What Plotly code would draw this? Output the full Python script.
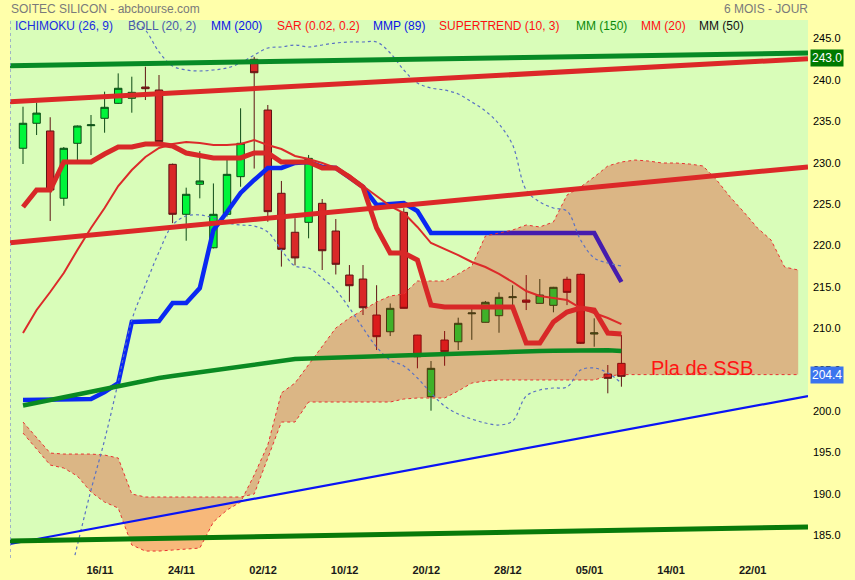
import plotly.graph_objects as go

# ---------------- data ----------------
bars = list(range(45))
opens = [231.75, 234.77, 233.84, 225.71, 232.35, 234.48, 235.37, 237.18, 237.79, 239.15,
         238.79, 229.81, 223.77, 227.40, 219.73, 223.77, 228.32, 242.50, 236.37, 226.31,
         221.60, 222.80, 225.10, 221.75, 216.43, 215.95, 211.60, 209.58, 224.01, 209.18,
         201.73, 208.58, 208.37, 211.75, 210.72, 211.52, 213.70, 213.41, 213.01, 212.77,
         215.92, 216.52, 209.30, 204.47, 205.76]
highs = [236.77, 237.26, 235.50, 231.90, 234.50, 235.77, 238.59, 240.80, 240.40, 241.60,
         240.60, 229.90, 226.99, 231.40, 227.50, 230.33, 236.58, 242.80, 236.98, 227.80,
         223.30, 230.94, 225.62, 223.20, 217.64, 217.64, 215.20, 213.00, 224.50, 209.20,
         206.04, 209.67, 211.28, 212.80, 213.30, 214.34, 215.20, 216.43, 215.95, 215.00,
         216.23, 216.60, 211.20, 205.56, 209.18]
lows = [229.85, 233.35, 222.96, 224.80, 230.10, 230.93, 233.63, 237.10, 236.05, 237.58,
        232.40, 222.70, 220.58, 225.70, 219.65, 223.50, 227.10, 229.30, 222.87, 217.45,
        217.60, 220.87, 217.04, 216.50, 213.20, 211.60, 207.37, 209.06, 212.40, 205.16,
        200.04, 205.47, 207.37, 208.60, 210.70, 209.46, 212.20, 212.20, 213.00, 211.93,
        212.80, 208.10, 207.77, 202.14, 202.94]
closes = [234.77, 236.00, 226.71, 231.75, 234.44, 234.58, 236.70, 239.00, 238.51, 238.95,
          232.55, 223.77, 226.19, 227.80, 223.77, 228.60, 232.35, 240.88, 224.09, 219.54,
          218.50, 230.53, 219.37, 217.73, 215.14, 212.48, 208.98, 212.41, 212.41, 206.56,
          205.16, 207.17, 210.60, 211.85, 213.14, 213.74, 213.80, 213.14, 214.02, 214.95,
          214.34, 208.18, 209.45, 203.95, 204.19]

kijun = [201.33, 201.33, 201.33, 201.33, 201.33, 201.45, 202.30, 203.38, 210.76, 210.88,
         210.88, 213.05, 213.05, 214.86, 221.87, 224.05, 226.35, 227.92, 229.37, 229.37,
         229.97, 230.09, 229.49, 229.37, 228.28, 227.07, 224.90, 225.02, 225.14, 224.17,
         221.51, 221.51, 221.51, 221.51, 221.51, 221.51, 221.51, 221.51, 221.51, 221.51,
         221.51, 221.51, 221.51, 218.49, 215.59]
supertrend = [224.65, 226.71, 226.71, 230.09, 230.09, 230.09, 231.06, 231.90, 231.90, 232.27,
              232.27, 232.03, 231.18, 230.82, 230.58, 230.58, 230.58, 231.18, 231.18, 230.09,
              230.09, 230.09, 229.37, 229.37, 228.28, 227.07, 222.12, 219.09, 219.09, 218.25,
              212.81, 212.57, 212.57, 212.57, 212.57, 212.57, 212.57, 208.22, 208.22, 210.76,
              211.96, 212.45, 212.21, 209.43, 209.31]
mm20 = [209.43, 212.21, 214.38, 216.68, 219.46, 222.12, 224.53, 227.19, 229.12, 230.70,
        231.78, 232.27, 232.51, 232.39, 232.15, 232.15, 232.27, 232.75, 232.15, 231.66,
        230.82, 230.45, 229.97, 229.37, 228.52, 227.19, 225.98, 224.77, 223.93, 222.24,
        220.30, 219.58, 218.85, 218.01, 217.40, 216.56, 215.59, 214.50, 213.90, 213.66,
        213.41, 212.45, 211.84, 211.24, 210.51]
mm200 = [200.66, 201.00, 201.33, 201.69, 202.05, 202.36, 202.66, 203.02, 203.38, 203.69,
         203.99, 204.23, 204.47, 204.71, 204.95, 205.20, 205.44, 205.68, 205.92, 206.10,
         206.28, 206.34, 206.40, 206.46, 206.53, 206.59, 206.65, 206.71, 206.77, 206.80,
         206.85, 206.89, 206.94, 206.98, 207.00, 207.07, 207.13, 207.19, 207.25, 207.29,
         207.33, 207.37, 207.37, 207.35, 207.25]
boll_up = [258.0, 258.5, 258.0, 256.5, 255.0, 253.5, 252.0, 250.0, 247.4, 246.04,
           243.39, 241.69, 241.21, 241.09, 241.21, 241.45, 242.06, 243.02, 243.87, 243.99,
           244.23, 243.99, 244.23, 244.47, 244.59, 244.59, 244.59, 243.26, 241.21, 239.64,
           239.03, 238.79, 238.31, 237.34, 236.26, 234.68, 232.15, 226.71, 225.26, 224.53,
           224.17, 220.67, 218.49, 217.89, 217.52]
boll_dn = [161.0, 166.0, 171.0, 177.0, 183.81, 190.45, 196.50, 203.50, 211.00, 215.23,
           219.22, 222.48, 223.57, 223.69, 223.32, 222.72, 222.48, 222.36, 221.63, 219.46,
           217.52, 217.28, 216.07, 214.62, 212.45, 210.03, 207.73, 206.16, 205.44, 203.99,
           202.18, 200.60, 199.64, 199.03, 198.55, 198.31, 198.79, 201.81, 202.54, 202.78,
           202.90, 204.95, 205.20, 204.59, 203.38]

cloud_bars = list(range(58))
span_a = [197.34, 195.41, 193.47, 193.11, 192.14, 190.21, 189.00, 188.28, 183.81, 183.08,
          183.08, 183.20, 183.32, 183.44, 186.59, 188.04, 189.00, 192.27, 195.89, 202.18,
          203.38, 205.56, 207.86, 210.03, 211.24, 212.21, 213.17, 213.90, 214.14, 215.71,
          215.71, 215.71, 216.56, 217.52, 221.15, 221.51, 221.87, 222.48, 222.24, 222.84,
          226.10, 227.07, 228.28, 229.61, 230.09, 230.33, 230.21, 229.97, 229.97, 229.85,
          229.61, 227.92, 225.86, 224.05, 222.12, 220.67, 217.40, 217.04]
span_b = [198.67, 196.86, 194.92, 194.80, 194.80, 194.80, 194.68, 194.32, 189.97, 189.61,
          189.61, 189.61, 189.61, 189.61, 189.61, 189.61, 189.61, 189.97, 194.44, 198.67,
          198.67, 201.09, 201.09, 201.09, 201.09, 201.09, 201.09, 201.09, 201.45, 201.57,
          201.57, 201.57, 202.42, 203.38, 203.63, 203.75, 203.75, 203.75, 203.75, 203.75,
          203.75, 203.75, 203.75, 204.23, 204.40, 204.40, 204.40, 204.40, 204.40, 204.40,
          204.40, 204.40, 204.40, 204.40, 204.40, 204.40, 204.40, 204.40]

# trend lines: value at the left and right edge of the chart
green_top = [241.73, 243.25]
red_top = [237.38, 242.57]
red_mid = [220.34, 229.50]
blue_support = [183.93, 201.81]
green_bottom = [184.29, 185.98]

tick_bars = [5, 11, 17, 23, 29, 35, 41, 47, 53]
tick_text = ["16/11", "24/11", "02/12", "10/12", "20/12", "28/12", "05/01", "14/01", "22/01"]
y_ticks = [185, 190, 195, 200, 205, 210, 215, 220, 225, 230, 235, 240, 245]

last_ssb = 204.4
tl_label = 243.0

legend_items = ["ICHIMOKU (26, 9)", "BOLL (20, 2)", "MM (200)", "SAR (0.02, 0.2)", "MMP (89)",
                "SUPERTREND (10, 3)", "MM (150)", "MM (20)", "MM (50)"]

# ---------------- styling / layout ----------------
XR = [-0.956, 57.72]
YR = [182.24, 247.25]
YELLOW = "#FFFFAA"
GREEN_BG = "#D9FDB9"
FONT = "Arial, Liberation Sans, sans-serif"

fig = go.Figure()

fig.add_trace(go.Candlestick(
    x=bars, open=opens, high=highs, low=lows, close=closes,
    increasing=dict(fillcolor="#00F53A", line=dict(color="#0E4A16", width=1)),
    decreasing=dict(fillcolor="#D92828", line=dict(color="#5E1414", width=1)),
    whiskerwidth=0, hoverinfo="skip", showlegend=False))

fig.add_trace(go.Scatter(x=bars, y=kijun, mode="lines",
                         line=dict(color="#0A28F2", width=4.5), hoverinfo="skip"))

# Ichimoku cloud (translucent, drawn over candles and the kijun line)
fig.add_trace(go.Scatter(x=cloud_bars, y=span_a, mode="lines",
                         line=dict(color="#E83232", width=1, dash="dot"), hoverinfo="skip"))
fig.add_trace(go.Scatter(x=cloud_bars, y=span_b, mode="lines", fill="tonexty",
                         fillcolor="rgba(225,0,0,0.28)",
                         line=dict(color="#E83232", width=1, dash="dot"), hoverinfo="skip"))

for band in (boll_up, boll_dn):
    fig.add_trace(go.Scatter(x=bars, y=band, mode="lines", line_shape="spline",
                             line=dict(color="#5A72C4", width=1.2, dash="dot"), hoverinfo="skip"))

fig.add_trace(go.Scatter(x=bars, y=mm20, mode="lines",
                         line=dict(color="#DC2A2A", width=2), hoverinfo="skip"))
fig.add_trace(go.Scatter(x=bars, y=supertrend, mode="lines",
                         line=dict(color="#D82828", width=5), hoverinfo="skip"))
fig.add_trace(go.Scatter(x=bars, y=mm200, mode="lines",
                         line=dict(color="#0A8A22", width=4.5), hoverinfo="skip"))

for vals, col, w in ((green_top, "#078A26", 5), (red_top, "#DC2828", 5), (red_mid, "#DC2828", 5),
                     (blue_support, "#0A14F5", 2.2), (green_bottom, "#087A0A", 5)):
    fig.add_trace(go.Scatter(x=XR, y=vals, mode="lines", line=dict(color=col, width=w),
                             hoverinfo="skip"))

# green zone above the support line
zone = (f"M {XR[0]},{blue_support[0]} L {XR[1]},{blue_support[1]} "
        f"L {XR[1]},{YR[1]} L {XR[0]},{YR[1]} Z")
shapes = [
    dict(type="path", path=zone, xref="x", yref="y", fillcolor=GREEN_BG,
         line=dict(width=0), layer="below"),
    dict(type="line", xref="x", yref="paper", x0=XR[0], x1=XR[0], y0=0, y1=1,
         line=dict(color="#8C9CC8", width=1.5, dash="dot"), layer="above"),
]

def px_x(px):
    return (px - 10) / 798.0

def px_y(py):
    return 1 - (py - 20) / 538.0

legend_pos = [15, 128, 211, 277, 373, 439, 576, 641, 699]
legend_col = ["#1A2EE0", "#4A5AA8", "#0A14E6", "#FF1010", "#0A14E6", "#FF1010",
              "#0A8A0A", "#FF1010", "#111111"]
annotations = []
for txt, p, c in zip(legend_items, legend_pos, legend_col):
    annotations.append(dict(text=txt, x=px_x(p - 2), y=px_y(26), xref="paper", yref="paper",
                            xanchor="left", yanchor="middle", showarrow=False,
                            font=dict(family=FONT, size=12, color=c)))

annotations += [
    dict(text="SOITEC SILICON - abcbourse.com", x=px_x(9), y=px_y(9), xref="paper",
         yref="paper", xanchor="left", yanchor="middle", showarrow=False,
         font=dict(family=FONT, size=12, color="#7A7A7A")),
    dict(text="6 MOIS - JOUR", x=px_x(810), y=px_y(9), xref="paper", yref="paper",
         xanchor="right", yanchor="middle", showarrow=False,
         font=dict(family=FONT, size=12, color="#7A7A7A")),
    dict(text="Pla de SSB", x=46.0, y=205.2, xref="x", yref="y", xanchor="left",
         yanchor="middle", showarrow=False, font=dict(family=FONT, size=20, color="#FF1414")),
    dict(text=f"{tl_label:.1f}", x=px_x(810), y=tl_label - 0.3, xref="paper", yref="y",
         xanchor="left", yanchor="middle", showarrow=False, bgcolor="#007A00",
         font=dict(family=FONT, size=12, color="white"), borderpad=1),
    dict(text=f"{last_ssb:.1f}", x=px_x(810), y=last_ssb, xref="paper", yref="y",
         xanchor="left", yanchor="middle", showarrow=False, bgcolor="#3B74EE",
         font=dict(family=FONT, size=12, color="white"), borderpad=1),
]

fig.update_layout(
    width=855, height=580,
    margin=dict(l=10, r=47, t=20, b=22, autoexpand=False),
    paper_bgcolor=YELLOW, plot_bgcolor=YELLOW,
    showlegend=False, hovermode=False,
    boxgap=0.22,
    shapes=shapes, annotations=annotations,
    xaxis=dict(range=XR, showgrid=False, zeroline=False, showline=False, ticks="",
               tickvals=[b + 0.65 for b in tick_bars], ticktext=tick_text,
               tickfont=dict(family=FONT, size=11, color="#1A1A1A", weight="bold"),
               ticklabelstandoff=4,
               rangeslider=dict(visible=False), fixedrange=True, automargin=False),
    yaxis=dict(range=YR, side="right", showgrid=False, zeroline=False, showline=False,
               ticks="", tickvals=y_ticks, ticktext=[f"{v:.1f}" for v in y_ticks],
               tickfont=dict(family=FONT, size=11, color="#000000"), fixedrange=True,
               ticklabelstandoff=4, automargin=False),
)

fig.write_html(
    "out.html",
    config={"displayModeBar": False},
    post_script="document.body.style.margin='0';document.body.style.background='#FFFFAA';",
)
